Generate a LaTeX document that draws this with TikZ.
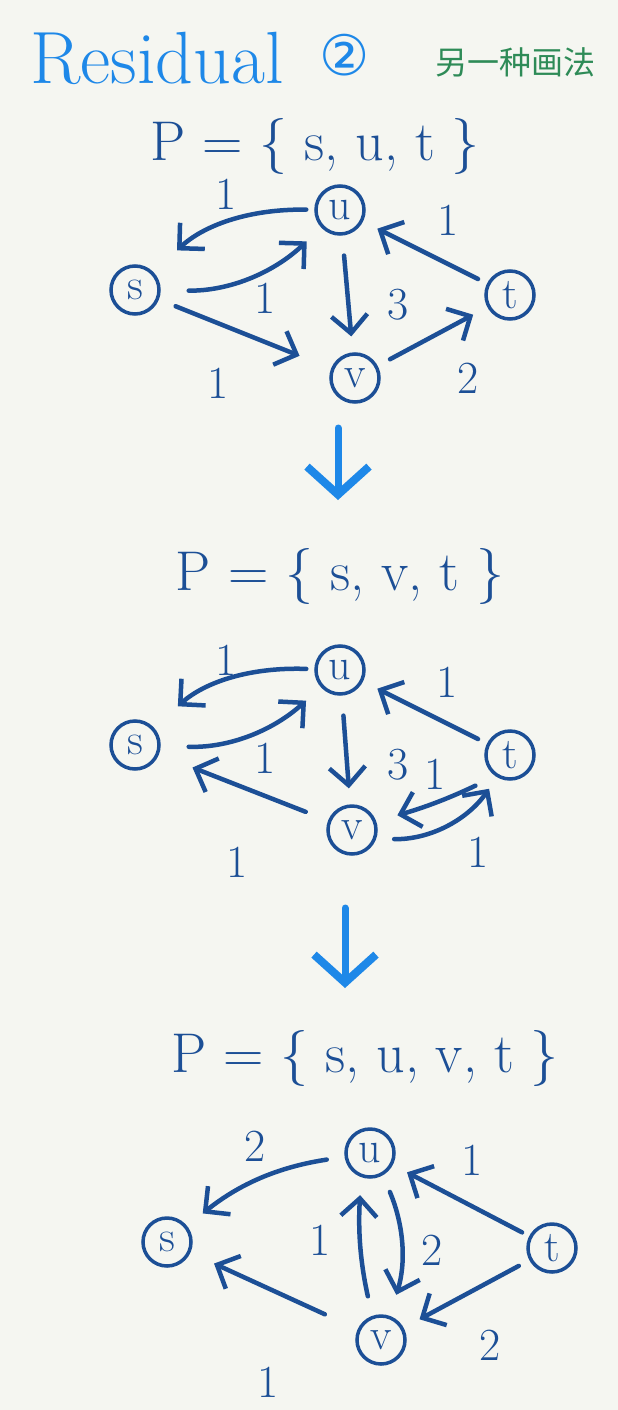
\documentclass[tikz,border=0pt]{standalone}
\usepackage{fontspec}
\usepackage{tikz}
\usetikzlibrary{arrows.meta}
\newfontfamily\cjkfont{Noto Sans CJK SC}
\newfontfamily\symfont{DejaVu Sans}
\definecolor{ink}{HTML}{1C4F96}
\definecolor{brightblue}{HTML}{1E88E8}
\definecolor{paper}{HTML}{F5F6F1}
\definecolor{notegreen}{HTML}{2E8B57}

\begin{document}
\begin{tikzpicture}[x=1pt,y=-1pt]
      \tikzstyle vertex=[draw=ink, circle, line width=3.5pt, minimum size=48pt,
      inner sep=0pt, text=ink, font=\fontsize{44}{44}\selectfont]
      \tikzstyle flow=[draw=ink, line width=4.5pt, line cap=round,
      -{Straight Barb[length=18pt,width=36pt,line width=4.5pt]}, shorten <=12pt, shorten >=16pt]
      \tikzstyle weight=[text=ink, font=\fontsize{46}{46}\selectfont]
      \tikzstyle pathset=[text=ink, font=\fontsize{56}{56}\selectfont]
      \tikzstyle nextstep=[draw=brightblue, line width=7pt, line cap=round,
      -{Straight Barb[length=28pt,width=62pt,line width=8pt]}]
      \fill [paper] (0,0) rectangle (618,1410);
      \useasboundingbox (0,0) rectangle (618,1410);
      \node [text=brightblue, font=\fontsize{74}{74}\selectfont] (title) at (157,58) {Residual};
      \node [text=brightblue, font=\symfont\fontsize{56}{56}\selectfont] (num) at (345,55) {②};
      \node [text=notegreen, font=\cjkfont\fontsize{32}{32}\selectfont] (note) at (515,62) {另一种画法};
      \node [pathset] (p1) at (315,146) {P = \{ s, u, t \}};
      \node [vertex] (s1) at (135,290) {s};
      \node [vertex] (u1) at (340,210) {u};
      \node [vertex] (v1) at (355,378) {v};
      \node [vertex] (t1) at (510,295) {t};
      \draw [flow, shorten <=8pt, shorten >=32pt] (u1) to [bend right=22] (s1);
      \draw [flow, shorten <=28pt, shorten >=20pt] (s1) to [bend right=22] (u1);
      \draw [flow, shorten <=20pt] (u1) -- (v1);
      \draw [flow, shorten <=10pt, shorten >=16pt] (t1) -- (u1);
      \draw [flow, shorten <=18pt, shorten >=34pt] (s1) -- (v1);
      \draw [flow, shorten <=14pt] (v1) -- (t1);
      \node [weight] (w1a) at (226,194) {1};
      \node [weight] (w1b) at (265,298) {1};
      \node [weight] (w1c) at (398,305) {3};
      \node [weight] (w1d) at (448,220) {1};
      \node [weight] (w1e) at (218,383) {1};
      \node [weight] (w1f) at (468,378) {2};
      \coordinate (a1) at (338,428);
      \coordinate (b1) at (338,500);
      \draw [nextstep] (a1) -- (b1);
      \node [pathset] (p2) at (340,576) {P = \{ s, v, t \}};
      \node [vertex] (s2) at (135,745) {s};
      \node [vertex] (u2) at (340,670) {u};
      \node [vertex] (v2) at (352,830) {v};
      \node [vertex] (t2) at (510,755) {t};
      \draw [flow, shorten <=8pt, shorten >=32pt] (u2) to [bend right=22] (s2);
      \draw [flow, shorten <=28pt, shorten >=20pt] (s2) to [bend right=22] (u2);
      \draw [flow, shorten <=20pt] (u2) -- (v2);
      \draw [flow, shorten <=10pt, shorten >=16pt] (t2) -- (u2);
      \draw [flow, shorten <=24pt, shorten >=36pt] (v2) -- (s2);
      \draw [flow, shorten <=22pt, shorten >=22pt] (t2.235) to [bend left=5] (v2.20);
      \draw [flow, shorten <=18pt, shorten >=14pt] (v2.-20) to [bend right=28] (t2.240);
      \node [weight] (w2a) at (226,660) {1};
      \node [weight] (w2b) at (265,758) {1};
      \node [weight] (w2c) at (398,765) {3};
      \node [weight] (w2d) at (447,682) {1};
      \node [weight] (w2e) at (237,862) {1};
      \node [weight] (w2f) at (435,774) {1};
      \node [weight] (w2g) at (478,852) {1};
      \coordinate (a2) at (345,908);
      \coordinate (b2) at (345,988);
      \draw [nextstep] (a2) -- (b2);
      \node [pathset] (p3) at (365,1058) {P = \{ s, u, v, t \}};
      \node [vertex] (s3) at (167,1242) {s};
      \node [vertex] (u3) at (370,1153) {u};
      \node [vertex] (v3) at (381,1340) {v};
      \node [vertex] (t3) at (552,1248) {t};
      \draw [flow, shorten <=18pt, shorten >=20pt] (u3) to [bend right=15] (s3);
      \draw [flow, shorten <=8pt, shorten >=16pt] (t3) -- (u3);
      \draw [flow, shorten <=20pt, shorten >=18pt] (v3.110) to [bend left=8] (u3.250);
      \draw [flow, shorten <=18pt, shorten >=22pt] (u3.-60) to [bend left=20] (v3.70);
      \draw [flow, shorten <=36pt, shorten >=26pt] (v3) -- (s3);
      \draw [flow, shorten <=12pt, shorten >=18pt] (t3) -- (v3);
      \node [weight] (w3a) at (255,1146) {2};
      \node [weight] (w3b) at (472,1160) {1};
      \node [weight] (w3c) at (320,1240) {1};
      \node [weight] (w3d) at (432,1250) {2};
      \node [weight] (w3e) at (268,1382) {1};
      \node [weight] (w3f) at (490,1345) {2};
\end{tikzpicture}
\end{document}
